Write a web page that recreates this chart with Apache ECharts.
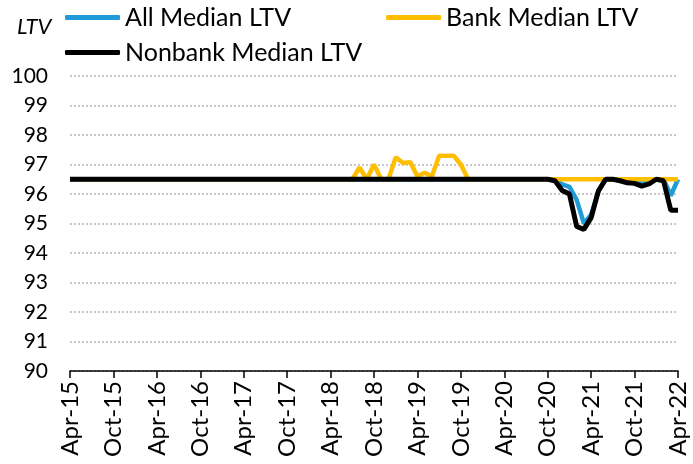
<!DOCTYPE html>
<html lang="en">
<head>
    <meta charset="UTF-8">
    <title>Median LTV</title>
    <script src="https://cdn.jsdelivr.net/npm/echarts@6/dist/echarts.min.js"></script>
    <style>
        html, body { margin: 0; padding: 0; background: #fff; }
    </style>
</head>
<body>
<div id="chart" style="width: 693px;height: 464px;"></div>
<script>
    // months, Apr-15 .. Apr-22
    const months = [
        'Apr-15','May-15','Jun-15','Jul-15','Aug-15','Sep-15','Oct-15','Nov-15','Dec-15',
        'Jan-16','Feb-16','Mar-16','Apr-16','May-16','Jun-16','Jul-16','Aug-16','Sep-16','Oct-16','Nov-16','Dec-16',
        'Jan-17','Feb-17','Mar-17','Apr-17','May-17','Jun-17','Jul-17','Aug-17','Sep-17','Oct-17','Nov-17','Dec-17',
        'Jan-18','Feb-18','Mar-18','Apr-18','May-18','Jun-18','Jul-18','Aug-18','Sep-18','Oct-18','Nov-18','Dec-18',
        'Jan-19','Feb-19','Mar-19','Apr-19','May-19','Jun-19','Jul-19','Aug-19','Sep-19','Oct-19','Nov-19','Dec-19',
        'Jan-20','Feb-20','Mar-20','Apr-20','May-20','Jun-20','Jul-20','Aug-20','Sep-20','Oct-20','Nov-20','Dec-20',
        'Jan-21','Feb-21','Mar-21','Apr-21','May-21','Jun-21','Jul-21','Aug-21','Sep-21','Oct-21','Nov-21','Dec-21',
        'Jan-22','Feb-22','Mar-22','Apr-22'
    ];

    const allMedian = [
        96.5, 96.5, 96.5, 96.5, 96.5, 96.5, 96.5, 96.5, 96.5,
        96.5, 96.5, 96.5, 96.5, 96.5, 96.5, 96.5, 96.5, 96.5, 96.5, 96.5, 96.5,
        96.5, 96.5, 96.5, 96.5, 96.5, 96.5, 96.5, 96.5, 96.5, 96.5, 96.5, 96.5,
        96.5, 96.5, 96.5, 96.5, 96.5, 96.5, 96.5, 96.5, 96.5, 96.5, 96.5, 96.5,
        96.5, 96.5, 96.5, 96.5, 96.5, 96.5, 96.5, 96.5, 96.5, 96.5, 96.5, 96.5,
        96.5, 96.5, 96.5, 96.5, 96.5, 96.5, 96.5, 96.5, 96.5, 96.5, 96.5, 96.33,
        96.24, 95.8, 95.0, 95.3, 96.1, 96.5, 96.5, 96.5, 96.45, 96.42, 96.38, 96.42,
        96.5, 96.5, 95.95, 96.5
    ];

    const bankMedian = [
        96.5, 96.5, 96.5, 96.5, 96.5, 96.5, 96.5, 96.5, 96.5,
        96.5, 96.5, 96.5, 96.5, 96.5, 96.5, 96.5, 96.5, 96.5, 96.5, 96.5, 96.5,
        96.5, 96.5, 96.5, 96.5, 96.5, 96.5, 96.5, 96.5, 96.5, 96.5, 96.5, 96.5,
        96.5, 96.5, 96.5, 96.5, 96.5, 96.5, 96.5, 96.9, 96.5, 97.0, 96.5, 96.5,
        97.25, 97.05, 97.08, 96.6, 96.72, 96.6, 97.3, 97.3, 97.3, 97.0, 96.5, 96.5,
        96.5, 96.5, 96.5, 96.5, 96.5, 96.5, 96.5, 96.5, 96.5, 96.5, 96.5, 96.5,
        96.5, 96.5, 96.5, 96.5, 96.5, 96.5, 96.5, 96.5, 96.5, 96.5, 96.5, 96.5,
        96.5, 96.5, 96.5, 96.5
    ];

    const nonbankMedian = [
        96.5, 96.5, 96.5, 96.5, 96.5, 96.5, 96.5, 96.5, 96.5,
        96.5, 96.5, 96.5, 96.5, 96.5, 96.5, 96.5, 96.5, 96.5, 96.5, 96.5, 96.5,
        96.5, 96.5, 96.5, 96.5, 96.5, 96.5, 96.5, 96.5, 96.5, 96.5, 96.5, 96.5,
        96.5, 96.5, 96.5, 96.5, 96.5, 96.5, 96.5, 96.5, 96.5, 96.5, 96.5, 96.5,
        96.5, 96.5, 96.5, 96.5, 96.5, 96.5, 96.5, 96.5, 96.5, 96.5, 96.5, 96.5,
        96.5, 96.5, 96.5, 96.5, 96.5, 96.5, 96.5, 96.5, 96.5, 96.5, 96.45, 96.12,
        96.0, 94.9, 94.8, 95.2, 96.1, 96.5, 96.5, 96.45, 96.38, 96.36, 96.27, 96.34,
        96.5, 96.45, 95.45, 95.45
    ];

    const font = 'Lato';

    let myChart = echarts.init(document.getElementById('chart'));
    let option = {
        animation: false,
        title: {
            text: 'LTV',
            left: 17,
            top: 16,
            padding: 0,
            textStyle: { fontFamily: font, fontSize: 22, fontStyle: 'italic', fontWeight: 'normal', color: '#000' }
        },
        legend: [
            {
                data: ['All Median LTV', 'Bank Median LTV'],
                left: 65, top: 5, padding: 0,
                icon: 'roundRect', itemWidth: 55, itemHeight: 5, itemGap: 95,
                textStyle: { fontFamily: font, fontSize: 25, color: '#000' }
            },
            {
                data: ['Nonbank Median LTV'],
                left: 65, top: 40, padding: 0,
                icon: 'roundRect', itemWidth: 55, itemHeight: 5,
                textStyle: { fontFamily: font, fontSize: 25, color: '#000' }
            }
        ],
        grid: { left: 70, right: 15, top: 76, bottom: 93 },
        xAxis: {
            type: 'category',
            boundaryGap: false,
            data: months,
            axisLine: { lineStyle: { color: '#000', width: 1.5 } },
            axisTick: { interval: 5, length: 7, lineStyle: { color: '#000', width: 1.5 } },
            axisLabel: { interval: 5, rotate: 90, margin: 10, fontFamily: font, fontSize: 24, color: '#000' },
            splitLine: { show: false }
        },
        yAxis: {
            type: 'value',
            min: 90, max: 100, interval: 1,
            axisLine: { show: false },
            axisTick: { show: false },
            axisLabel: { margin: 22, fontFamily: font, fontSize: 21, color: '#000' },
            splitLine: { lineStyle: { color: '#c8c8c8', type: [2, 2], width: 2 } }
        },
        series: [
            { name: 'All Median LTV', type: 'line', data: allMedian, symbol: 'none',
              itemStyle: { color: '#1f9bd7' }, lineStyle: { color: '#1f9bd7', width: 4.5 } },
            { name: 'Bank Median LTV', type: 'line', data: bankMedian, symbol: 'none',
              itemStyle: { color: '#ffbf00' }, lineStyle: { color: '#ffbf00', width: 4.5 } },
            { name: 'Nonbank Median LTV', type: 'line', data: nonbankMedian, symbol: 'none',
              itemStyle: { color: '#000' }, lineStyle: { color: '#000', width: 5 } }
        ]
    };
    myChart.setOption(option);
</script>
</body>
</html>
